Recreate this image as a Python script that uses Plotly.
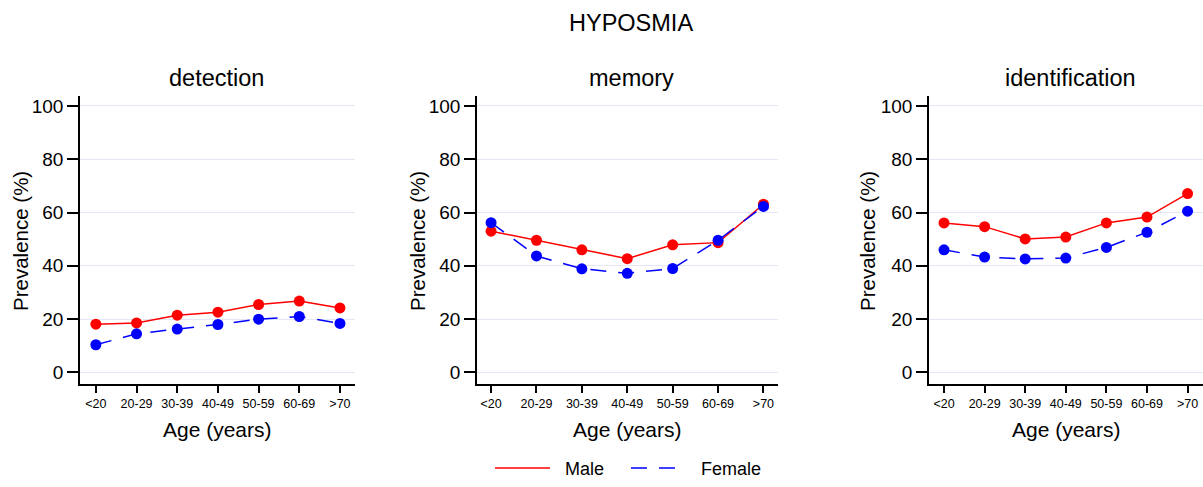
import plotly.graph_objects as go

age_groups = ["<20", "20-29", "30-39", "40-49", "50-59", "60-69", ">70"]
panel_titles = ["detection", "memory", "identification"]

detection_male = [18.1, 18.6, 21.5, 22.6, 25.5, 26.8, 24.2]
detection_female = [10.4, 14.5, 16.3, 18.0, 20.0, 21.0, 18.4]
memory_male = [53.0, 49.6, 46.0, 42.7, 47.9, 48.7, 63.1]
memory_female = [56.2, 43.7, 38.9, 37.2, 39.0, 49.6, 62.3]
identification_male = [56.1, 54.7, 50.1, 50.8, 56.1, 58.3, 67.1]
identification_female = [46.0, 43.3, 42.6, 42.9, 46.9, 52.6, 60.5]

y_ticks = [0, 20, 40, 60, 80, 100]

male_series = [detection_male, memory_male, identification_male]
female_series = [detection_female, memory_female, identification_female]

W, H = 1203, 487
FONT = "Liberation Sans, Arial, Helvetica, sans-serif"
RED = "#ff0000"
BLUE = "#0000ff"
GRID = "#e4e7f4"
DASH = "16px,12px"

# pixel layout of panels
x_domains_px = [(80, 355), (477, 778), (929, 1203)]
x_ranges = [(-0.39, 6.37), (-0.31, 6.32), (-0.37, 6.38)]
y_dom = (1 - 392 / H, 1 - 98 / H)
y_range = (-4.3, 103.7)

fig = go.Figure()

for i in range(3):
    ax = "" if i == 0 else str(i + 1)
    xref = "x" + ax
    yref = "y" + ax
    idx = list(range(len(age_groups)))
    fig.add_trace(go.Scatter(
        x=idx, y=male_series[i], mode="lines+markers",
        line=dict(color=RED, width=1.5),
        marker=dict(color=RED, size=11, symbol="circle"),
        showlegend=False, xaxis=xref, yaxis=yref, name="Male"))
    fig.add_trace(go.Scatter(
        x=idx, y=female_series[i], mode="lines+markers",
        line=dict(color=BLUE, width=1.5, dash=DASH),
        marker=dict(color=BLUE, size=11, symbol="circle"),
        showlegend=False, xaxis=xref, yaxis=yref, name="Female"))

# legend-only traces
NB = "\u00a0"
fig.add_trace(go.Scatter(x=[None], y=[None], mode="lines", name=NB * 2 + "Male",
                         line=dict(color=RED, width=1.5)))
fig.add_trace(go.Scatter(x=[None], y=[None], mode="lines", name=NB * 2 + "Female",
                         line=dict(color=BLUE, width=1.5, dash=DASH)))

layout = dict(
    width=W, height=H, autosize=False,
    margin=dict(l=0, r=0, t=0, b=0),
    paper_bgcolor="white", plot_bgcolor="white",
    font=dict(family=FONT, color="black"),
    showlegend=True,
    legend=dict(orientation="h", x=490 / W, xanchor="left", y=1 - 478 / H,
                yanchor="middle", font=dict(size=18, family=FONT),
                itemwidth=55, entrywidth=66, entrywidthmode="pixels",
                bgcolor="rgba(0,0,0,0)"),
)

for i in range(3):
    ax = "" if i == 0 else str(i + 1)
    x0, x1 = x_domains_px[i]
    layout["xaxis" + ax] = dict(
        domain=[x0 / W, x1 / W], range=list(x_ranges[i]),
        tickmode="array", tickvals=list(range(len(age_groups))), ticktext=age_groups,
        ticks="outside", ticklen=7, tickwidth=1.5, tickcolor="black",
        showline=True, linecolor="black", linewidth=1.5,
        showgrid=False, zeroline=False,
        tickfont=dict(size=12.5, family=FONT),
        anchor="y" + ax, fixedrange=True)
    layout["yaxis" + ax] = dict(
        domain=list(y_dom), range=list(y_range),
        tickmode="array", tickvals=y_ticks,
        ticks="outside", ticklen=11, tickwidth=1.5, tickcolor="black",
        showline=True, linecolor="black", linewidth=1.5,
        showgrid=True, gridcolor=GRID, gridwidth=1,
        zeroline=False,
        tickfont=dict(size=19, family=FONT),
        anchor="x" + ax, fixedrange=True)

fig.update_layout(**layout)

annotations = [
    dict(text="HYPOSMIA", x=631 / W, y=1 - 23 / H, xref="paper", yref="paper",
         showarrow=False, font=dict(size=23.5, family=FONT), xanchor="center", yanchor="middle"),
]
title_x = [216, 631, 1070]
ytitle_x = [21, 418, 868]
xtitle_x = [217, 627, 1066]
for i in range(3):
    annotations.append(dict(text=panel_titles[i], x=title_x[i] / W, y=1 - 80 / H,
                            xref="paper", yref="paper", showarrow=False,
                            font=dict(size=23.5, family=FONT), xanchor="center", yanchor="middle"))
    annotations.append(dict(text="Prevalence (%)", x=ytitle_x[i] / W, y=1 - 246 / H,
                            xref="paper", yref="paper", showarrow=False, textangle=-90,
                            font=dict(size=20.5, family=FONT), xanchor="center", yanchor="middle"))
    annotations.append(dict(text="Age (years)", x=xtitle_x[i] / W, y=1 - 439 / H,
                            xref="paper", yref="paper", showarrow=False,
                            font=dict(size=21, family=FONT), xanchor="center", yanchor="middle"))
fig.update_layout(annotations=annotations)

fig.write_html("out.html",
               config={"displayModeBar": False, "responsive": False},
               post_script="document.body.style.margin='0';")
